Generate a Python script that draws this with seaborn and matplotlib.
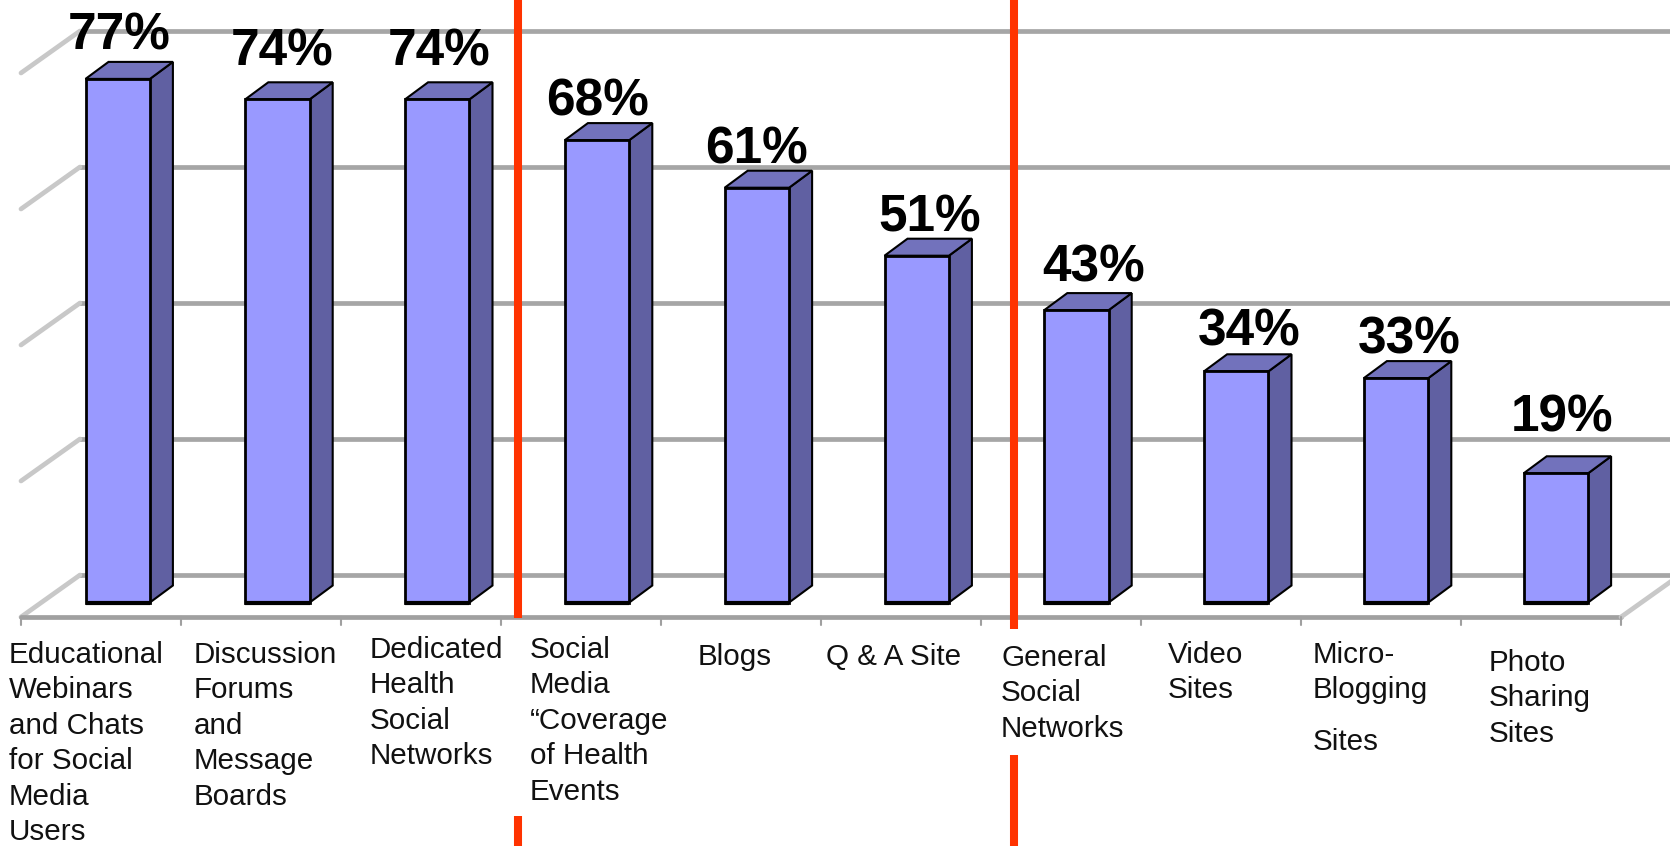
import pandas as pd
import matplotlib
matplotlib.use('Agg')
import matplotlib.pyplot as plt
from matplotlib.patches import Polygon
import seaborn as sns

# chart values
categories = ['Educational\nWebinars\nand Chats\nfor Social\nMedia\nUsers',
              'Discussion\nForums\nand\nMessage\nBoards',
              'Dedicated\nHealth\nSocial\nNetworks',
              'Social\nMedia\n\u201cCoverage\nof Health\nEvents',
              'Blogs',
              'Q & A Site',
              'General\nSocial\nNetworks',
              'Video\nSites',
              'Micro-\nBlogging\nSites',
              'Photo\nSharing\nSites']
values = [77, 74, 74, 68, 61, 51, 43, 34, 33, 19]
grid_levels = [0, 20, 40, 60, 80]

# layout, in pixels of the 1670x846 picture
W, H = 1670, 846
bar_step = 159.8
first_bar = 117.7
px_per_pct = 6.8
base_y = 602.5
side_dx, side_dy = 23, 17
label_dx = [1, 5, 2, 0, 0, 13, 17, 13, 13, 6]
label_base = [49, 65, 65, 116, 163, 231, 282, 345, 353, 431]
text_x = [9, 194, 370, 530, 698, 826, 1001, 1168, 1313, 1489]
text_base = [663, 663, 658, 658, 665, 665, 666, 663, 663, 671]
line_step = 35.4

sns.set_theme(style='white')
plt.rcParams['font.family'] = ['Liberation Sans', 'DejaVu Sans']

df = pd.DataFrame({'category': categories, 'value': values})

fig = plt.figure(figsize=(W / 100, H / 100), dpi=100)
ax = fig.add_axes([0, 0, 1, 1])
sns.barplot(data=df, x='category', y='value', order=categories, color='#9999FF', saturation=1,
            width=0.403, edgecolor='black', linewidth=2, ax=ax)
ax.set_xlim(-first_bar / bar_step, (W - first_bar) / bar_step)
ax.set_ylim((base_y - H) / px_per_pct, base_y / px_per_pct)
ax.set_axis_off()


# pixel position to axis units
def xp(px):
    return (px - first_bar) / bar_step


def yp(py):
    return (base_y - py) / px_per_pct


# back wall, side wall and floor
back_x, front_x, floor_y, floor_end = 80, 21, 617, 1621
for level in grid_levels:
    back_y = 575 - level * px_per_pct
    ax.plot([xp(back_x), xp(W)], [yp(back_y), yp(back_y)], color='#A6A6A6', lw=3.4, zorder=0.5)
    ax.plot([xp(front_x), xp(back_x)], [yp(back_y + 42), yp(back_y)], color='#C8C8C8', lw=3.4, zorder=0.5)
ax.plot([xp(front_x), xp(floor_end)], [yp(floor_y), yp(floor_y)], color='#A0A0A0', lw=3.4, zorder=0.6)
ax.plot([xp(floor_end), xp(floor_end + 59)], [yp(floor_y), yp(floor_y - 42)], color='#C8C8C8', lw=3.4, zorder=0.6)
for i in range(11):
    tick_x = front_x + i * 160
    ax.plot([xp(tick_x), xp(tick_x)], [yp(floor_y), yp(floor_y + 8)], color='#A0A0A0', lw=1.5, zorder=0.6)

# red dividers
ax.plot([xp(518), xp(518)], [yp(0), yp(618)], color='#FF3300', lw=5.8, solid_capstyle='butt', zorder=2)
ax.plot([xp(518), xp(518)], [yp(816), yp(H)], color='#FF3300', lw=5.8, solid_capstyle='butt', zorder=2)
ax.plot([xp(1014), xp(1014)], [yp(0), yp(629)], color='#FF3300', lw=5.8, solid_capstyle='butt', zorder=2)
ax.plot([xp(1014), xp(1014)], [yp(755), yp(H)], color='#FF3300', lw=5.8, solid_capstyle='butt', zorder=2)

# 3d sides on top of the seaborn bars
dx = side_dx / bar_step
dy = side_dy / px_per_pct
for bar in ax.patches[:len(values)]:
    bar.set_zorder(3.2)
    x0 = bar.get_x()
    x1 = x0 + bar.get_width()
    top = bar.get_height()
    side = [(x1, 0), (x1 + dx, dy), (x1 + dx, top + dy), (x1, top)]
    roof = [(x0, top), (x0 + dx, top + dy), (x1 + dx, top + dy), (x1, top)]
    ax.add_patch(Polygon(side, facecolor='#6060A2', edgecolor='black', lw=1.5, zorder=3))
    ax.add_patch(Polygon(roof, facecolor='#7272BC', edgecolor='black', lw=1.5, zorder=3))
    ax.plot([x0, x1], [0, 0], color='black', lw=3, zorder=3.4, solid_capstyle='butt')

# value labels
for i, v in enumerate(values):
    ax.text(i + label_dx[i] / bar_step, yp(label_base[i]), '%d%%' % v, ha='center', va='baseline',
            fontsize=37, fontweight='bold', color='black', zorder=5)

# category labels, each line placed on its own
for i, label in enumerate(categories):
    y = text_base[i]
    for k, line in enumerate(label.split('\n')):
        if i == 8 and k == 2:
            y += 16
        ax.text(xp(text_x[i]), yp(y + k * line_step), line, ha='left', va='baseline',
                fontsize=21.3, color='#111111', zorder=5)

plt.savefig('out.png', dpi=100, facecolor='white')
